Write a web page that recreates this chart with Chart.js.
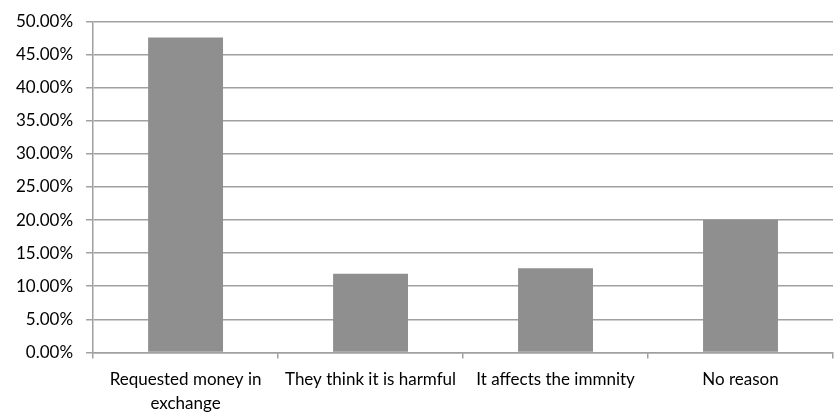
<!DOCTYPE html>
<html>
<head>
<meta charset="utf-8">
<script src="https://cdn.jsdelivr.net/npm/chart.js@4/dist/chart.umd.min.js"></script>
<style>
  html, body { margin: 0; padding: 0; background: #fff; }
  #wrap { width: 834px; height: 414px; }
</style>
</head>
<body>
<div id="wrap"><canvas id="chartRazones"></canvas></div>
<script>
const categorias = [
  ["Requested money in", "exchange"],
  "They think it is harmful",
  "It affects the immnity",
  "No reason"
];
const porcentajes = [47.6, 11.9, 12.7, 20.0];
const yTicks = [0, 5, 10, 15, 20, 25, 30, 35, 40, 45, 50];

const lineColor = "#a0a0a0";

const data = {
  labels: categorias,
  datasets: [
    {
      data: porcentajes,
      backgroundColor: "#8f8f8f",
      borderWidth: 0,
      barPercentage: 0.405,
      categoryPercentage: 1.0
    }
  ]
};

const config = {
  type: 'bar',
  data: data,
  options: {
    responsive: true,
    maintainAspectRatio: false,
    animation: false,
    layout: { padding: { top: 0, right: 1, left: 3, bottom: -10 } },
    plugins: {
      legend: { display: false },
      title: { display: false },
      tooltip: { enabled: false }
    },
    scales: {
      x: {
        grid: {
          display: true,
          drawOnChartArea: false,
          drawTicks: true,
          tickLength: 6,
          color: lineColor,
          lineWidth: 1.5
        },
        border: { color: lineColor, width: 1.5 },
        ticks: {
          color: "#000",
          font: { family: "Lato", size: 17, lineHeight: 1.4 },
          maxRotation: 0,
          autoSkip: false,
          padding: 9
        }
      },
      y: {
        min: 0,
        max: 50,
        afterBuildTicks: axis => {
          axis.ticks = yTicks.map(v => ({ value: v }));
        },
        grid: {
          color: lineColor,
          lineWidth: 1.5,
          tickLength: 7
        },
        border: { color: lineColor, width: 1.5 },
        ticks: {
          color: "#000",
          font: { family: "Lato", size: 17, lineHeight: 1 },
          padding: 13,
          callback: v => v.toFixed(2) + "%"
        }
      }
    }
  }
};

new Chart(document.getElementById("chartRazones"), config);
</script>
</body>
</html>
